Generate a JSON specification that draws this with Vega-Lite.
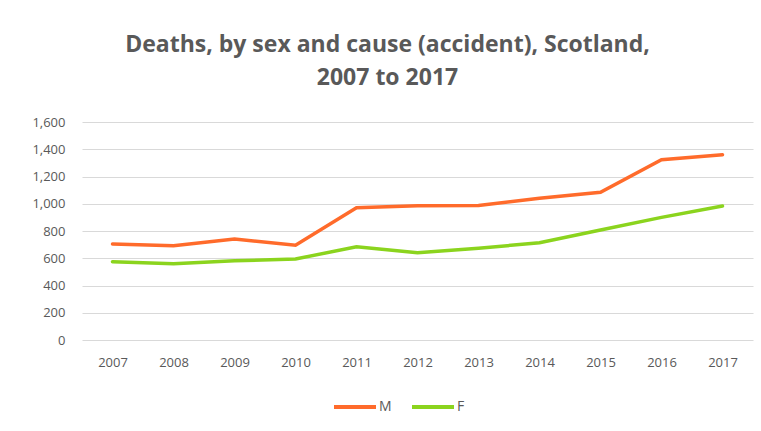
{
  "$schema": "https://vega.github.io/schema/vega-lite/v6.json",
  "autosize": "none",
  "width": 671,
  "height": 218,
  "padding": {"left": 82, "top": 122, "right": 8, "bottom": 91},
  "background": "white",
  "config": {
    "view": {"stroke": null},
    "font": "Open Sans"
  },
  "title": {
    "text": ["Deaths, by sex and cause (accident), Scotland,", "2007 to 2017"],
    "fontSize": 23,
    "fontWeight": "bold",
    "color": "#595959",
    "font": "Open Sans",
    "lineHeight": 33,
    "anchor": "middle",
    "dx": -30,
    "offset": 26
  },
  "data": {
    "values": [
      {"year": "2007", "sex": "M", "deaths": 705},
      {"year": "2008", "sex": "M", "deaths": 692},
      {"year": "2009", "sex": "M", "deaths": 741},
      {"year": "2010", "sex": "M", "deaths": 695},
      {"year": "2011", "sex": "M", "deaths": 971},
      {"year": "2012", "sex": "M", "deaths": 986},
      {"year": "2013", "sex": "M", "deaths": 988},
      {"year": "2014", "sex": "M", "deaths": 1040},
      {"year": "2015", "sex": "M", "deaths": 1084},
      {"year": "2016", "sex": "M", "deaths": 1323},
      {"year": "2017", "sex": "M", "deaths": 1360},
      {"year": "2007", "sex": "F", "deaths": 575},
      {"year": "2008", "sex": "F", "deaths": 560},
      {"year": "2009", "sex": "F", "deaths": 582},
      {"year": "2010", "sex": "F", "deaths": 594},
      {"year": "2011", "sex": "F", "deaths": 685},
      {"year": "2012", "sex": "F", "deaths": 641},
      {"year": "2013", "sex": "F", "deaths": 673},
      {"year": "2014", "sex": "F", "deaths": 714},
      {"year": "2015", "sex": "F", "deaths": 807},
      {"year": "2016", "sex": "F", "deaths": 900},
      {"year": "2017", "sex": "F", "deaths": 983}
    ]
  },
  "mark": {"type": "line", "strokeWidth": 3.5, "strokeCap": "round"},
  "encoding": {
    "x": {
      "field": "year",
      "type": "ordinal",
      "scale": {"type": "point", "padding": 0.5},
      "axis": {
        "title": null,
        "labelAngle": 0,
        "ticks": false,
        "domain": false,
        "labelPadding": 16,
        "labelFontSize": 13,
        "labelColor": "#595959"
      }
    },
    "y": {
      "field": "deaths",
      "type": "quantitative",
      "scale": {"domain": [0, 1600]},
      "axis": {
        "title": null,
        "values": [0, 200, 400, 600, 800, 1000, 1200, 1400, 1600],
        "format": ",d",
        "ticks": false,
        "domain": false,
        "labelPadding": 17,
        "labelFontSize": 13,
        "labelColor": "#595959",
        "gridColor": "#d9d9d9",
        "gridWidth": 1.2
      }
    },
    "color": {
      "field": "sex",
      "type": "nominal",
      "scale": {"domain": ["M", "F"], "range": ["#FF6B2B", "#8BD41E"]},
      "legend": {
        "title": null,
        "orient": "none",
        "legendX": 250,
        "legendY": 262,
        "direction": "horizontal",
        "symbolType": "stroke",
        "symbolSize": 1764,
        "symbolStrokeWidth": 4,
        "labelFontSize": 14,
        "labelColor": "#595959",
        "labelOffset": 1,
        "columnPadding": 12
      }
    }
  }
}
